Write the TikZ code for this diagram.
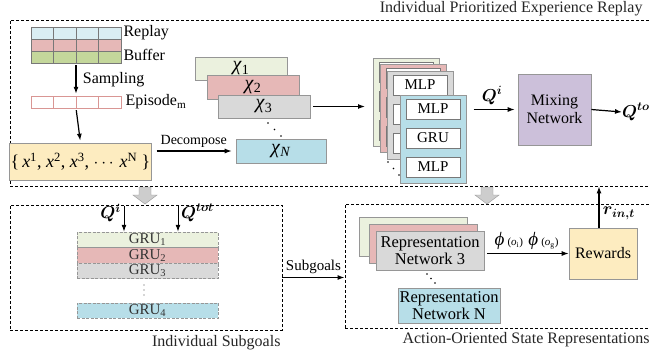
\documentclass[tikz,border=0pt]{standalone}
\usepackage{fontspec}
\setmainfont{Liberation Serif}
\usepackage{amsmath,amssymb}
\usepackage{bm}
\usetikzlibrary{arrows.meta,calc}
\definecolor{bufblue}{RGB}{218,238,243}
\definecolor{bufred}{RGB}{230,184,183}
\definecolor{bufgreen}{RGB}{196,215,155}
\definecolor{palegreen}{RGB}{235,241,222}
\definecolor{palered}{RGB}{230,184,183}
\definecolor{palegray}{RGB}{217,217,217}
\definecolor{paleblue}{RGB}{183,222,232}
\definecolor{paleyellow}{RGB}{253,236,192}
\definecolor{mixpurple}{RGB}{204,192,218}
\definecolor{edgegray}{RGB}{150,150,150}
\definecolor{cellgray}{RGB}{120,120,120}
\definecolor{epired}{RGB}{217,150,148}
\definecolor{arrowgray}{RGB}{205,205,205}
\newcommand{\chilbl}[1]{\textit{χ}\textsubscript{#1}}
\newcommand{\xsup}[1]{\textit{x}\textsuperscript{#1}}

\begin{document}
\begin{tikzpicture}[x=1pt,y=-1pt,
    every node/.style={font=\fontsize{15}{16}\selectfont},
    panel/.style={draw, dash pattern=on 3pt off 2pt, line width=0.8pt, inner sep=0pt},
    box/.style={draw=edgegray, line width=0.6pt, inner sep=1pt, align=center},
    cell/.style={box, draw=cellgray, fill=white, minimum width=54, minimum height=20},
    grubox/.style={draw=edgegray, dash pattern=on 3pt off 1.5pt, line width=0.5pt,
        inner sep=0pt, minimum width=141, minimum height=15.5, text=black!80},
    bigmath/.style={font=\fontsize{18}{19}\selectfont},
    chibox/.style={box, inner sep=0pt, font=\fontsize{20}{20}\selectfont},
    flow/.style={-{Latex[length=7pt,width=5pt]}, line width=1.2pt},
    caption/.style={text=black!85, font=\fontsize{16}{17}\selectfont}]
    \useasboundingbox (0,0) rectangle (649,354);

    % --- panels ---
    \node[panel, minimum width=644, minimum height=166] (toppanel) at (332,103) {};
    \node[panel, minimum width=272, minimum height=125] (subpanel) at (146,267.5) {};
    \node[panel, minimum width=310, minimum height=124] (reppanel) at (500,266) {};
    \node[caption, anchor=east] (toptitle) at (646,9) {Individual Prioritized Experience Replay};
    \node[caption, anchor=east] (subtitle) at (284,343) {Individual Subgoals};
    \node[caption, anchor=west] (reptitle) at (399,340) {Action-Oriented State Representations};

    % --- replay buffer and sampling ---
    \foreach \c [count=\r from 0] in {bufblue,bufred,bufgreen}{
        \foreach \k in {0,...,3}{
            \draw[cellgray, fill=\c, line width=0.4pt] ({31+22.5*\k},{27+12*\r}) rectangle ++(22.5,12);
        }
    }
    \node[inner sep=0pt, minimum width=90, minimum height=36] (buffer) at (76,45) {};
    \node[anchor=west, font=\fontsize{16}{17}\selectfont] (replaylbl) at (120,33) {Replay};
    \node[anchor=west, font=\fontsize{16}{17}\selectfont] (bufferlbl) at (120,55) {Buffer};

    \foreach \k in {0,...,3}{
        \draw[epired, fill=white, line width=0.5pt] ({31+22.5*\k},96) rectangle ++(22.5,12);
    }
    \node[inner sep=0pt, minimum width=90, minimum height=12] (episode) at (76,102) {};
    \node[anchor=west, font=\fontsize{16}{17}\selectfont] (episodelbl) at (122,102) {Episode\textsubscript{m}};

    \draw[flow, shorten <=2pt, shorten >=2pt] (buffer.south) -- (episode.north)
        node[midway, right=3pt, font=\fontsize{16}{17}\selectfont] {Sampling};

    \node[box, fill=paleyellow, minimum width=129, minimum height=37, font=\fontsize{18}{19}\selectfont] (traj) at (80.5,161.5)
        {\{\,\xsup{1}, \xsup{2}, \xsup{3}, $\cdots$\,\xsup{N} \}};
    \draw[flow, shorten <=2pt, shorten >=2pt] (episode.south) -- (traj.north);

    % --- per-agent observations ---
    \node[chibox, fill=palegreen, minimum width=92, minimum height=23] (chi1) at (241,68.5) {\chilbl{1}};
    \node[chibox, fill=palered, minimum width=92, minimum height=24] (chi2) at (253,87) {\chilbl{2}};
    \node[chibox, fill=palegray, minimum width=92, minimum height=23] (chi3) at (264,106.5) {\chilbl{3}};
    \node[chibox, fill=paleblue, minimum width=90, minimum height=24] (chiN) at (281,151) {\chilbl{\textit{N}}};
    \foreach \pt in {{268,123},{274.5,129.5},{281,136}}{
        \fill (\pt) circle (0.9);
    }
    \draw[flow, shorten <=5pt, shorten >=4pt] (chiN.west -| traj.east) -- (chiN.west)
        node[midway, above, font=\fontsize{14}{15}\selectfont] {Decompose};

    % --- agent networks ---
    \foreach \x/\y/\c [count=\n] in {373/58/palegreen, 380/64/palered, 387/71/palegray}{
        \node[box, fill=\c, minimum width=66, minimum height=88, anchor=north west] (layer\n) at (\x,\y) {};
        \node[cell] (layer\n-a) at ({\x+33},{\y+14}) {};
        \node[cell] (layer\n-b) at ({\x+33},{\y+43}) {};
        \node[cell] (layer\n-c) at ({\x+33},{\y+72}) {};
    }
    \node at (layer3-a) {MLP};
    \node[box, fill=paleblue, minimum width=66, minimum height=88, anchor=north west] (layer4) at (400,95) {};
    \node[cell] (layer4-a) at (433,109) {MLP};
    \node[cell] (layer4-b) at (433,138) {GRU};
    \node[cell] (layer4-c) at (433,167) {MLP};
    \foreach \pt in {{388,162},{393.5,168.5},{399,175}}{
        \fill (\pt) circle (0.9);
    }
    \draw[flow, shorten <=3pt, shorten >=8pt] (chi3.east) -- (chi3.east -| layer1.west);

    % --- mixing ---
    \node[box, fill=mixpurple, minimum width=73, minimum height=71, font=\fontsize{16}{18}\selectfont] (mix) at (554.5,109.5) {Mixing\\Network};
    \draw[flow, shorten <=7pt, shorten >=3pt] (mix.west -| layer4.east) -- (mix.west)
        node[midway, above=1pt, bigmath] {$\bm{Q^i}$};
    \node[anchor=west, inner sep=0pt, bigmath] (qtotlbl) at (622,112) {$\bm{Q^{tot}}$};
    \draw[flow] (mix.east) -- (qtotlbl.west);

    % --- hollow arrows between panels ---
    \foreach \bx in {145,487}{
        \filldraw[fill=arrowgray, draw=edgegray, line width=0.4pt]
            (\bx-6,187) -- (\bx+6,187) -- (\bx+6,195) -- (\bx+12,195) -- (\bx,204)
            -- (\bx-12,195) -- (\bx-6,195) -- cycle;
    }

    % --- individual subgoals ---
    \node[grubox, fill=palegreen] (gru1) at (147.5,239.75) {GRU\textsubscript{1}};
    \node[grubox, fill=palered] (gru2) at (147.5,255.25) {GRU\textsubscript{2}};
    \node[grubox, fill=palegray] (gru3) at (147.5,270.75) {GRU\textsubscript{3}};
    \node[grubox, fill=paleblue] (gru4) at (147.5,310.5) {GRU\textsubscript{4}};
    \foreach \dy in {285,290,295}{
        \fill[black!70] (144,\dy) circle (0.6);
    }

    \coordinate (qiin) at (124,206);
    \coordinate (qtotin) at (178,206);
    \draw[flow, line width=1pt] (qiin) -- (qiin |- gru1.north);
    \draw[flow, line width=1pt] (qtotin) -- (qtotin |- gru1.north);
    \node[anchor=east, inner sep=1pt, bigmath] (qilbl) at (122,213) {$\bm{Q^i}$};
    \node[anchor=west, inner sep=1pt, bigmath] (qtotsub) at (180,213) {$\bm{Q^{tot}}$};

    \draw[flow] (subpanel.east) ++(0,10) coordinate (sgstart) -- (sgstart -| reppanel.west)
        node[midway, above] {Subgoals};

    % --- state representations ---
    \node[box, fill=palegreen, minimum width=108, minimum height=39] (rep1) at (413,236.5) {};
    \node[box, fill=palered, minimum width=108, minimum height=39] (rep2) at (423,243.5) {};
    \node[box, fill=palegray, minimum width=108, minimum height=39, font=\fontsize{16.5}{17}\selectfont] (rep3) at (430,250.5)
        {Representation\\Network 3};
    \foreach \pt in {{427,274},{431,278.5},{435,283}}{
        \fill (\pt) circle (0.8);
    }
    \node[box, fill=paleblue, minimum width=102, minimum height=35, font=\fontsize{16.5}{17}\selectfont] (repN) at (449,305.5)
        {Representation\\Network N};
    \node[box, fill=paleyellow, minimum width=68, minimum height=51, font=\fontsize{16}{17}\selectfont] (rewards) at (603,253.5) {Rewards};

    \draw[flow, shorten <=3pt] (rewards.west -| rep3.east) -- (rewards.west)
        node[midway, above, font=\fontsize{19}{19}\selectfont] {\textit{ϕ}\,{\fontsize{11}{11}\selectfont(\textit{o}\textsubscript{i})}\;\textit{ϕ}\,{\fontsize{11}{11}\selectfont(\textit{o}\textsubscript{g})}};
    \draw[flow] (rewards.north) ++(-4,0) coordinate (rstart) -- (rstart |- toppanel.south)
        node[pos=0.35, right, bigmath] {$\bm{r_{in,t}}$};
\end{tikzpicture}
\end{document}
